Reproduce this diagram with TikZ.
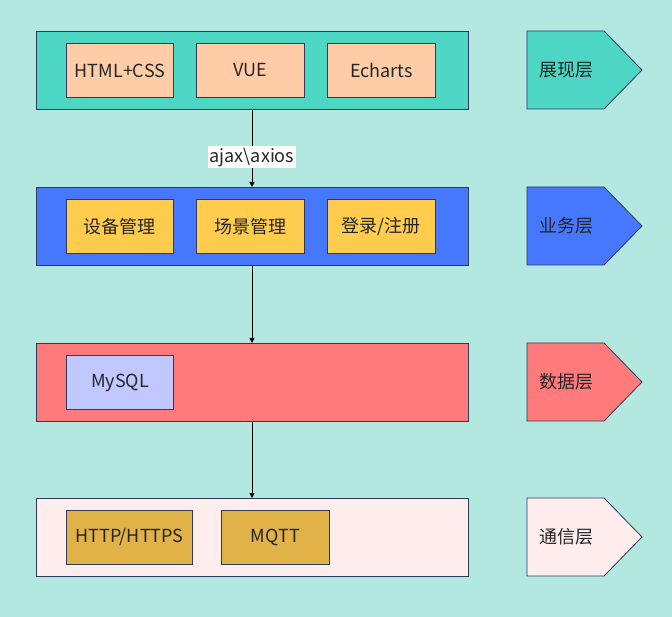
\documentclass[tikz,border=0pt]{standalone}
\usepackage{fontspec}
\setmainfont{Noto Sans CJK SC}
\usetikzlibrary{arrows.meta}
\definecolor{bgc}{HTML}{B2E8E0}
\definecolor{teal}{HTML}{4DD6C4}
\definecolor{bluec}{HTML}{4577FF}
\definecolor{yel}{HTML}{FFCC4D}
\definecolor{redc}{HTML}{FF7B7B}
\definecolor{lav}{HTML}{C0C8FF}
\definecolor{pinkc}{HTML}{FFEDED}
\definecolor{gold}{HTML}{E0B248}
\definecolor{peach}{HTML}{FFCCA8}
\definecolor{edge}{HTML}{2F3A5A}
\tikzset{
  txt/.style={font=\fontsize{18}{21}\selectfont, text=black!85},
  layer/.style={draw=edge, line width=0.9pt, minimum width=432pt, minimum height=78pt, inner sep=0pt, anchor=north west},
  item/.style={draw=edge, line width=0.9pt, minimum height=54pt, inner sep=0pt, anchor=north west, txt},
  tag/.style={draw=edge, line width=0.8pt},
  conn/.style={line width=0.7pt, -{Triangle[length=5pt,width=5pt]}}
}
\begin{document}
\begin{tikzpicture}[x=1pt,y=-1pt]
\fill[bgc] (0,0) rectangle (672,617);
\useasboundingbox (0,0) rectangle (672,617);
% layers
\node[layer, fill=teal] (L1) at (36,31) {};
\node[layer, fill=bluec] (L2) at (36,187) {};
\node[layer, fill=redc] (L3) at (36,343) {};
\node[layer, fill=pinkc] (L4) at (36,498) {};
% items
\node[item, fill=peach, minimum width=107pt] (html) at (66,43) {HTML+CSS};
\node[item, fill=peach, minimum width=108pt] (vue) at (196,43) {VUE};
\node[item, fill=peach, minimum width=108pt] (ech) at (327,43) {Echarts};
\node[item, fill=yel, minimum width=107pt] (dev) at (66,199) {设备管理};
\node[item, fill=yel, minimum width=108pt] (scene) at (196,199) {场景管理};
\node[item, fill=yel, minimum width=108pt] (login) at (327,199) {登录/注册};
\node[item, fill=lav, minimum width=107pt] (mysql) at (66,355) {MySQL};
\node[item, fill=gold, minimum width=126pt] (http) at (66,510) {HTTP/HTTPS};
\node[item, fill=gold, minimum width=108pt] (mqtt) at (221,510) {MQTT};
% connectors
\coordinate (a1) at (252,109);
\draw[conn] (L1.south -| a1) -- (L2.north -| a1) node[pos=0.615, fill=white, inner sep=1.5pt, txt] (lab) {ajax\textbackslash axios};
\draw[conn] (L2.south -| a1) -- (L3.north -| a1);
\draw[conn] (L3.south -| a1) -- (L4.north -| a1);
% tags
\foreach \y/\c/\t/\n in {31/teal/展现层/T1, 187/bluec/业务层/T2, 343/redc/数据层/T3, 498/pinkc/通信层/T4}{
  \draw[tag, fill=\c] (527,\y) -- (604,\y) -- (642,\y+39) -- (604,\y+78) -- (527,\y+78) -- cycle;
  \node[txt] (\n) at (566,\y+39) {\t};
}
\end{tikzpicture}
\end{document}
